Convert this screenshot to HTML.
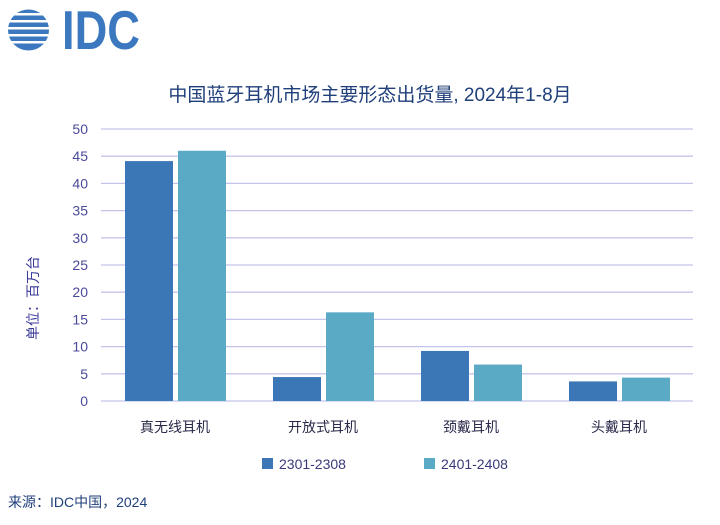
<!DOCTYPE html>
<html><head><meta charset="utf-8"><style>
body{margin:0;background:#fff;width:720px;height:520px;overflow:hidden;font-family:"Liberation Sans","Noto Sans CJK SC",sans-serif;}
svg text{font-family:"Liberation Sans","Noto Sans CJK SC",sans-serif;}
</style></head><body>
<svg id="c" width="720" height="520">
<g>
<clipPath id="cl"><circle cx="28.5" cy="30" r="20.5"/></clipPath>
<g clip-path="url(#cl)" fill="#3b78bf">
<rect x="6" y="9" width="46" height="4"/><rect x="6" y="15.5" width="46" height="4.5"/><rect x="6" y="22.5" width="46" height="4.5"/><rect x="6" y="29.5" width="46" height="4.5"/><rect x="6" y="36.5" width="46" height="4.5"/><rect x="6" y="43.5" width="46" height="7"/>
</g>
<text x="62" y="49" font-size="55" font-weight="bold" fill="#3b78bf" textLength="78" lengthAdjust="spacingAndGlyphs">IDC</text>
</g>
<text x="370" y="101" text-anchor="middle" font-size="19" fill="#1f3f7a">中国蓝牙耳机市场主要形态出货量, 2024年1-8月</text>
<text transform="translate(38,298) rotate(-90)" text-anchor="middle" font-size="14" fill="#3a3a9a">单位：百万台</text>
<g id="grid"></g><g id="bars"></g><g id="xl"></g>
<g>
<rect x="262" y="458" width="11" height="11" fill="#3b76b6"/>
<text x="279" y="469" font-size="14" fill="#3a3a7a">2301-2308</text>
<rect x="424" y="458" width="11" height="11" fill="#5aaac5"/>
<text x="441" y="469" font-size="14" fill="#3a3a7a">2401-2408</text>
</g>
<text x="8" y="507" font-size="14" fill="#1f3f7a">来源：IDC中国，2024</text>
</svg>
<script>
const categories=["真无线耳机","开放式耳机","颈戴耳机","头戴耳机"];
const series1=[44.1,4.4,9.2,3.6];
const series2=[46.0,16.3,6.7,4.3];
const ticks=[0,5,10,15,20,25,30,35,40,45,50];
const NS="http://www.w3.org/2000/svg";
const L=101,R=693,T=129,B=401,MAX=50;
const y=v=>B-(B-T)*v/MAX;
const gw=(R-L)/categories.length;
const xc=i=>L+gw*(i+0.5);
function mk(t,a,p){const e=document.createElementNS(NS,t);for(const k in a)e.setAttribute(k,a[k]);p.appendChild(e);return e;}
const g=document.getElementById('grid');
ticks.forEach(t=>{
 const l=mk('line',{x1:L,x2:R,y1:y(t),y2:y(t),stroke:'#c4c4ea','stroke-width':1.3},g);
 
 
 const tx=mk('text',{x:88,y:y(t)+5,'text-anchor':'end','font-size':14,fill:'#4a4a9a'},g);
 tx.textContent=t;
 
 
});
const bg=document.getElementById('bars'),xl=document.getElementById('xl');
categories.forEach((c,i)=>{
 const b1=mk('rect',{x:xc(i)-50,y:y(series1[i]),width:48,height:B-y(series1[i]),fill:'#3b76b6'},bg);
 
 
 const b2=mk('rect',{x:xc(i)+3,y:y(series2[i]),width:48,height:B-y(series2[i]),fill:'#5aaac5'},bg);
 
 
 const t=mk('text',{x:xc(i),y:432,'text-anchor':'middle','font-size':14,fill:'#2a2a4a'},xl);
 t.textContent=c;
 
 
});
</script>
</body></html>
